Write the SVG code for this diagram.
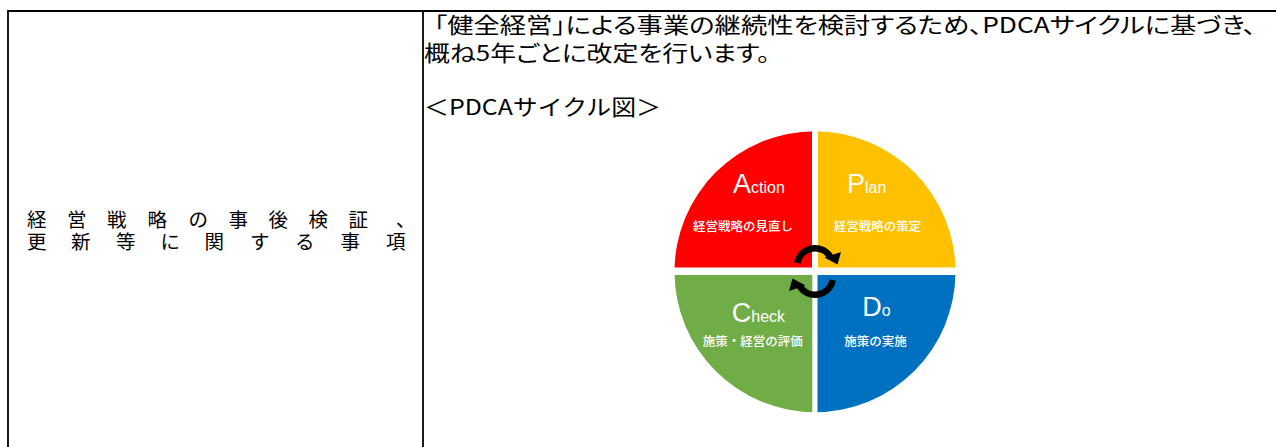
<svg xmlns="http://www.w3.org/2000/svg" width="1276" height="447" viewBox="0 0 1276 447">
<style>
.jp{font-family:"Noto Sans CJK JP","Noto Sans CJK SC",sans-serif;fill:#000}
.lbl{font-family:"Liberation Sans","Noto Sans CJK JP","Noto Sans CJK SC",sans-serif;fill:#000}
.palt{font-feature-settings:"palt" 1}
.grid{stroke:#000;stroke-width:1.8;fill:none}
.big{font-family:"Liberation Sans","Noto Sans",sans-serif;fill:#fff;text-anchor:middle}
.sub{font-family:"Noto Sans CJK JP","Noto Sans CJK SC",sans-serif;fill:#fff;font-size:12.5px;text-anchor:middle;font-weight:500}
</style>
<defs>
<clipPath id="disc"><circle cx="815" cy="271.7" r="140.5"/></clipPath>
<g id="arrowShape">
<path d="M 797.3 262.9 A 18 18 0 0 1 831 258" fill="none" stroke="#000" stroke-width="6.5"/>
<polygon points="837.5,264.5 824.5,257.5 841,252" fill="#000"/>
</g>
</defs>
<g id="table">
<line class="grid" x1="8" y1="11" x2="1276" y2="11"/>
<line class="grid" x1="8" y1="10.1" x2="8" y2="447"/>
<line class="grid" x1="423" y1="11" x2="423" y2="447"/>
</g>
<g id="left-label">
<text class="lbl" font-size="19.5"><tspan y="226.8" x="27 67 107 147.5 188.5 228.5 268.5 308.5 348.5 396">経営戦略の事後検証、</tspan><tspan y="248.8" x="27 71 116 160.5 204.5 250 295 340.5 386">更新等に関する事項</tspan></text>
</g>
<g id="description">
<text class="jp" font-size="21.5"><tspan class="palt" x="434" y="33" textLength="822" lengthAdjust="spacingAndGlyphs">「健全経営」による事業の継続性を検討するため、PDCAサイクルに基づき、</tspan><tspan class="palt" x="424" y="61" textLength="346" lengthAdjust="spacingAndGlyphs">概ね5年ごとに改定を行います。</tspan><tspan x="424" y="115" textLength="237" lengthAdjust="spacingAndGlyphs">＜PDCAサイクル図＞</tspan></text>
</g>
<g id="pdca" clip-path="url(#disc)">
<rect id="action-bg" x="670" y="128" width="142" height="139.5" fill="#FF0000"/>
<rect id="plan-bg" x="818" y="128" width="142" height="139.5" fill="#FFC000"/>
<rect id="check-bg" x="670" y="275" width="142.3" height="140" fill="#70AD47"/>
<rect id="do-bg" x="817.5" y="275" width="142.5" height="140" fill="#0070C0"/>
</g>
<g id="node-action">
<text class="big" x="759" y="193.3"><tspan font-size="27">A</tspan><tspan font-size="16">ction</tspan></text>
<text class="sub" x="743" y="230.5">経営戦略の見直し</text>
</g>
<g id="node-plan">
<text class="big" x="866.7" y="193.3"><tspan font-size="27">P</tspan><tspan font-size="16">lan</tspan></text>
<text class="sub" x="877.5" y="230.5">経営戦略の策定</text>
</g>
<g id="node-check">
<text class="big" x="758.4" y="322.3"><tspan font-size="27">C</tspan><tspan font-size="16">heck</tspan></text>
<text class="sub" x="752.8" y="346">施策・経営の評価</text>
</g>
<g id="node-do">
<text class="big" x="876.4" y="316"><tspan font-size="27">D</tspan><tspan font-size="16">o</tspan></text>
<text class="sub" x="875.5" y="346">施策の実施</text>
</g>
<g id="connectors">
<use href="#arrowShape"/>
<use href="#arrowShape" transform="rotate(180 815 271.5)"/>
</g>
</svg>
